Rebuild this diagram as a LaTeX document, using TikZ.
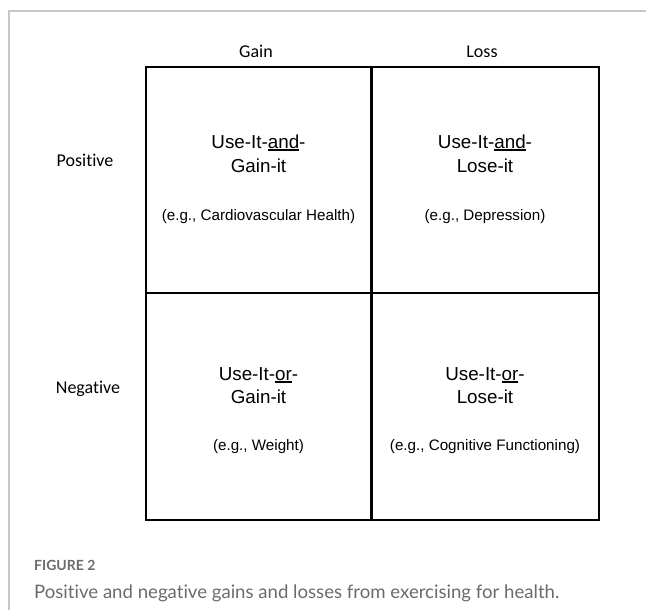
\documentclass[tikz,border=0pt]{standalone}
\usepackage{fontspec}
\setmainfont{Liberation Sans}
\newfontfamily\headfont[Ligatures=NoCommon]{Carlito}
\newfontfamily\capfont[Ligatures=NoCommon]{Lato}
\usepackage{tikz}

\newsavebox\ulbox
\newcommand{\ulword}[1]{\sbox\ulbox{#1}\rlap{\rule[-2.6pt]{\wd\ulbox}{1.5pt}}#1}

\begin{document}
\begin{tikzpicture}[x=1pt,y=-1pt,
    head/.style={font=\headfont\fontsize{18}{20}\selectfont, anchor=base},
    title/.style={font=\fontsize{18.8}{22}\selectfont, anchor=base},
    example/.style={font=\fontsize{15.2}{18}\selectfont, anchor=base},
    grid/.style={line width=2.7pt}]
      \useasboundingbox (0,0) rectangle (646,610);
      \draw[black!22, line width=1.2pt] (646,11) -- (9,11) -- (9,610);
      % the four cells
      \draw[grid] (146,67) rectangle (599,520);
      \draw[grid] (371.5,67) -- (371.5,520);
      \draw[grid] (146,293) -- (599,293);
      % column and row heads
      \node[head] (gain) at (256,58) {Gain};
      \node[head] (loss) at (482,58) {Loss};
      \node[head] (pos) at (85,166) {Positive};
      \node[head] (neg) at (88,393) {Negative};
      % cells
      \node[title] (pg1) at (258.5,148) {Use-It-\ulword{and}-};
      \node[title] (pg2) at (258.5,172) {Gain-it};
      \node[example] (pgex) at (258.5,220) {(e.g., Cardiovascular Health)};
      \node[title] (pl1) at (485,148) {Use-It-\ulword{and}-};
      \node[title] (pl2) at (485,172) {Lose-it};
      \node[example] (plex) at (485,220) {(e.g., Depression)};
      \node[title] (ng1) at (258.5,380) {Use-It-\ulword{or}-};
      \node[title] (ng2) at (258.5,403) {Gain-it};
      \node[example] (ngex) at (258.5,450) {(e.g., Weight)};
      \node[title] (nl1) at (485,380) {Use-It-\ulword{or}-};
      \node[title] (nl2) at (485,403) {Lose-it};
      \node[example] (nlex) at (485,450) {(e.g., Cognitive Functioning)};
      % caption
      \node[anchor=base west, inner sep=0, text=black!58,
        font=\capfont\bfseries\fontsize{14}{16}\selectfont]
        (fig) at (34,570) {FIGURE 2};
      \node[anchor=base west, inner sep=0, text=black!58,
        font=\capfont\fontsize{18.6}{21}\selectfont]
        (cap) at (34,598) {Positive and negative gains and losses from exercising for health.};
    \end{tikzpicture}
\end{document}
